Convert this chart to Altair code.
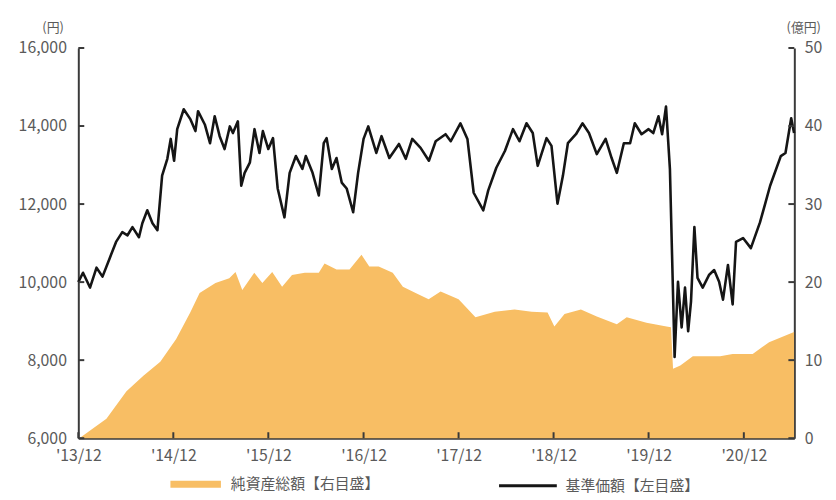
import json
import altair as alt
import pandas as pd

# ---------------- data ----------------
price_dates = [
    "2013-12-01", "2013-12-19", "2014-01-15", "2014-02-09", "2014-03-04", "2014-04-01", "2014-04-25", "2014-05-19", "2014-06-08", "2014-06-27",
    "2014-07-22", "2014-08-04", "2014-08-23", "2014-09-12", "2014-10-01", "2014-10-19", "2014-11-08", "2014-11-21", "2014-12-04", "2014-12-16",
    "2015-01-10", "2015-02-05", "2015-02-24", "2015-03-06", "2015-04-01", "2015-04-21", "2015-05-09", "2015-05-28", "2015-06-16", "2015-07-06",
    "2015-07-18", "2015-08-06", "2015-08-19", "2015-09-01", "2015-09-21", "2015-10-09", "2015-10-28", "2015-11-10", "2015-12-01", "2015-12-19",
    "2016-01-06", "2016-02-01", "2016-02-21", "2016-03-16", "2016-04-10", "2016-04-23", "2016-05-19", "2016-06-12", "2016-07-01", "2016-07-12",
    "2016-08-01", "2016-08-19", "2016-09-08", "2016-09-27", "2016-10-22", "2016-11-10", "2016-12-01", "2016-12-19", "2017-01-19", "2017-02-08",
    "2017-03-10", "2017-04-16", "2017-05-12", "2017-06-06", "2017-07-08", "2017-08-09", "2017-09-04", "2017-10-12", "2017-11-01", "2017-12-08",
    "2018-01-04", "2018-01-28", "2018-03-06", "2018-03-25", "2018-04-25", "2018-05-28", "2018-06-28", "2018-07-23", "2018-08-19", "2018-09-12",
    "2018-10-01", "2018-11-04", "2018-11-23", "2018-12-16", "2019-01-06", "2019-01-25", "2019-02-25", "2019-03-22", "2019-04-16", "2019-05-16",
    "2019-06-19", "2019-07-12", "2019-08-01", "2019-08-28", "2019-09-21", "2019-10-09", "2019-11-04", "2019-12-01", "2019-12-19", "2020-01-08",
    "2020-01-22", "2020-02-06", "2020-02-21", "2020-03-10", "2020-03-23", "2020-04-06", "2020-04-19", "2020-05-01", "2020-05-12", "2020-05-25",
    "2020-06-06", "2020-06-26", "2020-07-21", "2020-08-09", "2020-08-28", "2020-09-12", "2020-10-01", "2020-10-19", "2020-11-01", "2020-11-28",
    "2020-12-28", "2021-02-01", "2021-02-19", "2021-03-12", "2021-04-22", "2021-05-10", "2021-06-01", "2021-06-12",
]
price_values = [
    10000, 10240, 9860, 10370, 10140, 10620, 11030, 11280, 11200, 11410,
    11150, 11510, 11840, 11510, 11330, 12730, 13160, 13670, 13110, 13920,
    14430, 14170, 13870, 14380, 14040, 13560, 14250, 13740, 13410, 13990,
    13820, 14120, 12470, 12800, 13060, 13920, 13310, 13870, 13410, 13690,
    12400, 11660, 12800, 13230, 12900, 13230, 12800, 12220, 13560, 13690,
    12900, 13180, 12550, 12400, 11790, 12800, 13670, 13990, 13310, 13740,
    13180, 13540, 13160, 13670, 13440, 13110, 13610, 13790, 13610, 14070,
    13670, 12290, 11840, 12350, 12930, 13360, 13920, 13610, 14070, 13820,
    12980, 13690, 13490, 12010, 12730, 13560, 13790, 14070, 13820, 13280,
    13670, 13180, 12800, 13560, 13560, 14070, 13790, 13920, 13820, 14250,
    13790, 14500, 12900, 8080, 10010, 8840, 9860, 8740, 9500, 11410,
    10110, 9860, 10190, 10310, 10010, 9550, 10440, 9430, 11030, 11130,
    10870, 11530, 11960, 12470, 13230, 13310, 14200, 13820,
]

asset_dates = [
    "2013-12-05", "2014-03-19", "2014-06-04", "2014-08-08", "2014-10-12", "2014-12-12", "2015-02-04", "2015-03-12", "2015-05-12", "2015-07-04",
    "2015-07-28", "2015-08-23", "2015-10-08", "2015-11-08", "2015-12-16", "2016-01-23", "2016-03-01", "2016-04-19", "2016-06-12", "2016-07-04",
    "2016-08-19", "2016-10-08", "2016-11-23", "2016-12-23", "2017-01-28", "2017-03-23", "2017-05-01", "2017-06-19", "2017-08-08", "2017-09-23",
    "2017-12-01", "2018-02-04", "2018-04-19", "2018-07-04", "2018-09-08", "2018-11-08", "2018-12-04", "2019-01-12", "2019-03-16", "2019-05-16",
    "2019-08-01", "2019-09-08", "2019-11-23", "2020-02-08", "2020-02-25", "2020-03-04", "2020-04-01", "2020-05-19", "2020-09-01", "2020-10-19",
    "2021-01-04", "2021-03-08", "2021-06-12",
]
asset_values = [
    0.0, 2.5, 6.0, 8.0, 9.8, 12.7, 16.1, 18.6, 19.9, 20.5,
    21.3, 19.0, 21.2, 19.9, 21.3, 19.4, 20.9, 21.2, 21.2, 22.4,
    21.6, 21.6, 23.5, 22.0, 22.0, 21.2, 19.4, 18.6, 17.8, 18.8,
    17.8, 15.5, 16.2, 16.5, 16.2, 16.1, 14.3, 15.9, 16.5, 15.6,
    14.6, 15.5, 14.8, 14.3, 14.2, 8.9, 9.3, 10.5, 10.5, 10.8,
    10.8, 12.3, 13.6,
]

price_name = "基準価額【左目盛】"
asset_name = "純資産総額【右目盛】"
left_unit = "(円)"
right_unit = "(億円)"

x_tick_years = [2013, 2014, 2015, 2016, 2017, 2018, 2019, 2020]
x_tick_labels = ["'13/12", "'14/12", "'15/12", "'16/12", "'17/12", "'18/12", "'19/12", "'20/12"]
left_ticks = [6000, 8000, 10000, 12000, 14000, 16000]
right_ticks = [0, 10, 20, 30, 40, 50]

# ---------------- styling ----------------
W, H = 723, 394
FONT = "Noto Sans CJK JP"
ORANGE = "#F8BE64"
LINE = "#151515"
AXIS = "#3a3a3a"
TXT = "#5a5a5a"
TICK = 6

price_df = pd.DataFrame({"date": pd.to_datetime(price_dates), "price": price_values, "series": price_name})
asset_df = pd.DataFrame({"date": pd.to_datetime(asset_dates), "assets": asset_values, "series": asset_name})
xtick_df = pd.DataFrame({"date": pd.to_datetime([f"{y}-12-01" for y in x_tick_years])})
ltick_df = pd.DataFrame({"lv": left_ticks})
rtick_df = pd.DataFrame({"rv": right_ticks})

x_scale = alt.Scale(domain=[alt.DateTime(year=2013, month=12, date=1),
                            alt.DateTime(year=2021, month=6, date=13)])
left_scale = alt.Scale(domain=[6000, 16000], nice=False)
right_scale = alt.Scale(domain=[0, 50], nice=False)

label_expr = f"{json.dumps(x_tick_labels)}[year(datum.value) - {x_tick_years[0]}]"

x_axis = alt.Axis(
    values=[alt.DateTime(year=y, month=12, date=1) for y in x_tick_years],
    labelExpr=label_expr, ticks=False, grid=False, title=None,
    domainColor=AXIS, domainWidth=2, labelColor=TXT, labelFont=FONT,
    labelFontSize=16, labelPadding=10, labelAlign="center", labelFlush=False,
)

area = alt.Chart(asset_df).mark_area(color=ORANGE, opacity=1).encode(
    x=alt.X("date:T", scale=x_scale, axis=x_axis),
    y=alt.Y("assets:Q", scale=right_scale, axis=alt.Axis(
        orient="right", values=right_ticks, ticks=False, grid=False, format="d",
        domainColor=AXIS, domainWidth=2, labelColor=TXT, labelFont=FONT, labelFontSize=16,
        labelPadding=10, title=right_unit, titleAngle=0, titleX=9, titleY=-21,
        titleAlign="center", titleBaseline="middle", titleFont=FONT, titleFontSize=13,
        titleFontWeight="normal", titleColor=TXT)),
    fill=alt.Fill("series:N", scale=alt.Scale(domain=[asset_name], range=[ORANGE]),
                  legend=alt.Legend(orient="none", legendX=93, legendY=415, title=None,
                                    symbolType="M-1,-0.14L1,-0.14L1,0.14L-1,0.14Z",
                                    symbolSize=2600, symbolStrokeWidth=0, labelOffset=10,
                                    labelFont=FONT, labelFontSize=15, labelColor=TXT,
                                    labelLimit=300, padding=0)),
)

line = alt.Chart(price_df).mark_line(color=LINE, strokeWidth=2.6, strokeJoin="round").encode(
    x=alt.X("date:T", scale=x_scale),
    y=alt.Y("price:Q", scale=left_scale, axis=alt.Axis(
        orient="left", values=left_ticks, ticks=False, grid=False, format=",d",
        domainColor=AXIS, domainWidth=2, labelColor=TXT, labelFont=FONT, labelFontSize=16,
        labelPadding=12, title=left_unit, titleAngle=0, titleX=-26, titleY=-21,
        titleAlign="center", titleBaseline="middle", titleFont=FONT, titleFontSize=13,
        titleFontWeight="normal", titleColor=TXT)),
    stroke=alt.Stroke("series:N", scale=alt.Scale(domain=[price_name], range=[LINE]),
                      legend=alt.Legend(orient="none", legendX=423, legendY=411, title=None,
                                        symbolType="stroke", symbolSize=3400, symbolStrokeWidth=3,
                                        labelOffset=7, labelFont=FONT, labelFontSize=15,
                                        labelColor=TXT, labelLimit=300, padding=0)),
)

rticks = alt.Chart(rtick_df).mark_rule(color=AXIS, strokeWidth=2).encode(
    y=alt.Y("rv:Q", scale=right_scale, axis=None),
    x=alt.value(W), x2=alt.value(W - TICK),
)
lticks = alt.Chart(ltick_df).mark_rule(color=AXIS, strokeWidth=2).encode(
    y=alt.Y("lv:Q", scale=left_scale, axis=None),
    x=alt.value(0), x2=alt.value(TICK),
)
xticks = alt.Chart(xtick_df).mark_rule(color=AXIS, strokeWidth=2).encode(
    x=alt.X("date:T", scale=x_scale),
    y=alt.value(H), y2=alt.value(H - TICK),
)

chart = alt.layer(area, line, rticks, lticks, xticks).resolve_scale(y="independent").properties(
    width=W, height=H,
    autosize=alt.AutoSizeParams(type="none"),
    padding={"left": 71, "top": 38, "right": 34, "bottom": 56},
    background="white",
).configure_view(stroke=None)

chart.save("out.html", embed_options={"renderer": "svg", "actions": False})
